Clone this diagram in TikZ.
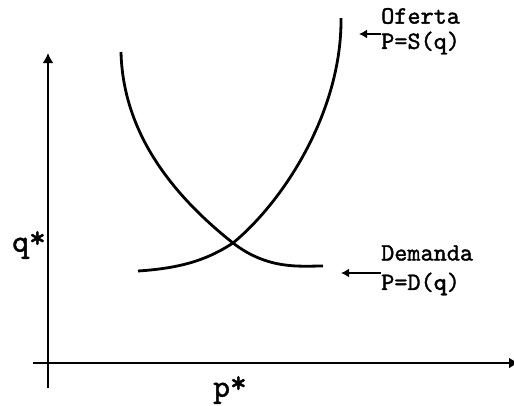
\documentclass[tikz,border=0pt]{standalone}
\usepackage{fontspec}
\newfontfamily\lblfont{lmmono10-regular.otf}[FakeBold=1.4]
\newfontfamily\lblbold{lmmonolt10-bold.otf}[FakeBold=1]
\usetikzlibrary{arrows.meta}
\begin{document}
\begin{tikzpicture}[x=1pt,y=-1pt,
  axis/.style={line width=2pt},
  curve/.style={line width=2.8pt},
  lbl/.style={font=\lblfont\fontsize{25}{27}\selectfont, inner sep=0pt, anchor=west},
  star/.style={font=\lblfont\fontsize{32}{34}\selectfont, inner sep=0pt},
  pointer/.style={line width=2pt, -{Latex[length=8pt,width=9pt]}}]
\useasboundingbox (0,0) rectangle (514,405);
% axes
\coordinate (ytop) at (48,53);
\coordinate (ybot) at (48,388);
\coordinate (xleft) at (33,363);
\coordinate (xright) at (519,363);
\draw[axis,-{Latex[length=10pt,width=11pt]}] (ybot) -- (ytop);
\draw[axis,-{Latex[length=10pt,width=11pt]}] (xleft) -- (xright);
% supply curve
\coordinate (s0) at (138,271);
\coordinate (eq) at (233,243);
\coordinate (s1) at (341,18);
\draw[curve] (s0) .. controls (185,268) and (210,258) .. (eq)
                  .. controls (285,200) and (342,110) .. (s1);
% demand curve
\coordinate (d0) at (121,52);
\coordinate (d1) at (323,266);
\draw[curve] (d0) .. controls (123,135) and (175,197) .. (eq)
                  .. controls (268,270) and (300,266) .. (d1);
% labels
\node[star] (qs) at (29,245) {q\raisebox{0.12em}{*}};
\node[star] (ps) at (230,390) {p\raisebox{0.12em}{*}};
\node[lbl] (of) at (381,16) {Oferta};
\node[lbl] (ps1) at (381,43) {P=S(q)};
\node[lbl] (de) at (381,253) {Demanda};
\node[lbl] (pd) at (381,284) {P=D({\lblbold q})};
\coordinate (sa) at (359,34);
\coordinate (da) at (341,273);
\draw[pointer] (ps1.west |- sa) -- (sa);
\draw[pointer] (pd.west |- da) -- (da);
\end{tikzpicture}
\end{document}
